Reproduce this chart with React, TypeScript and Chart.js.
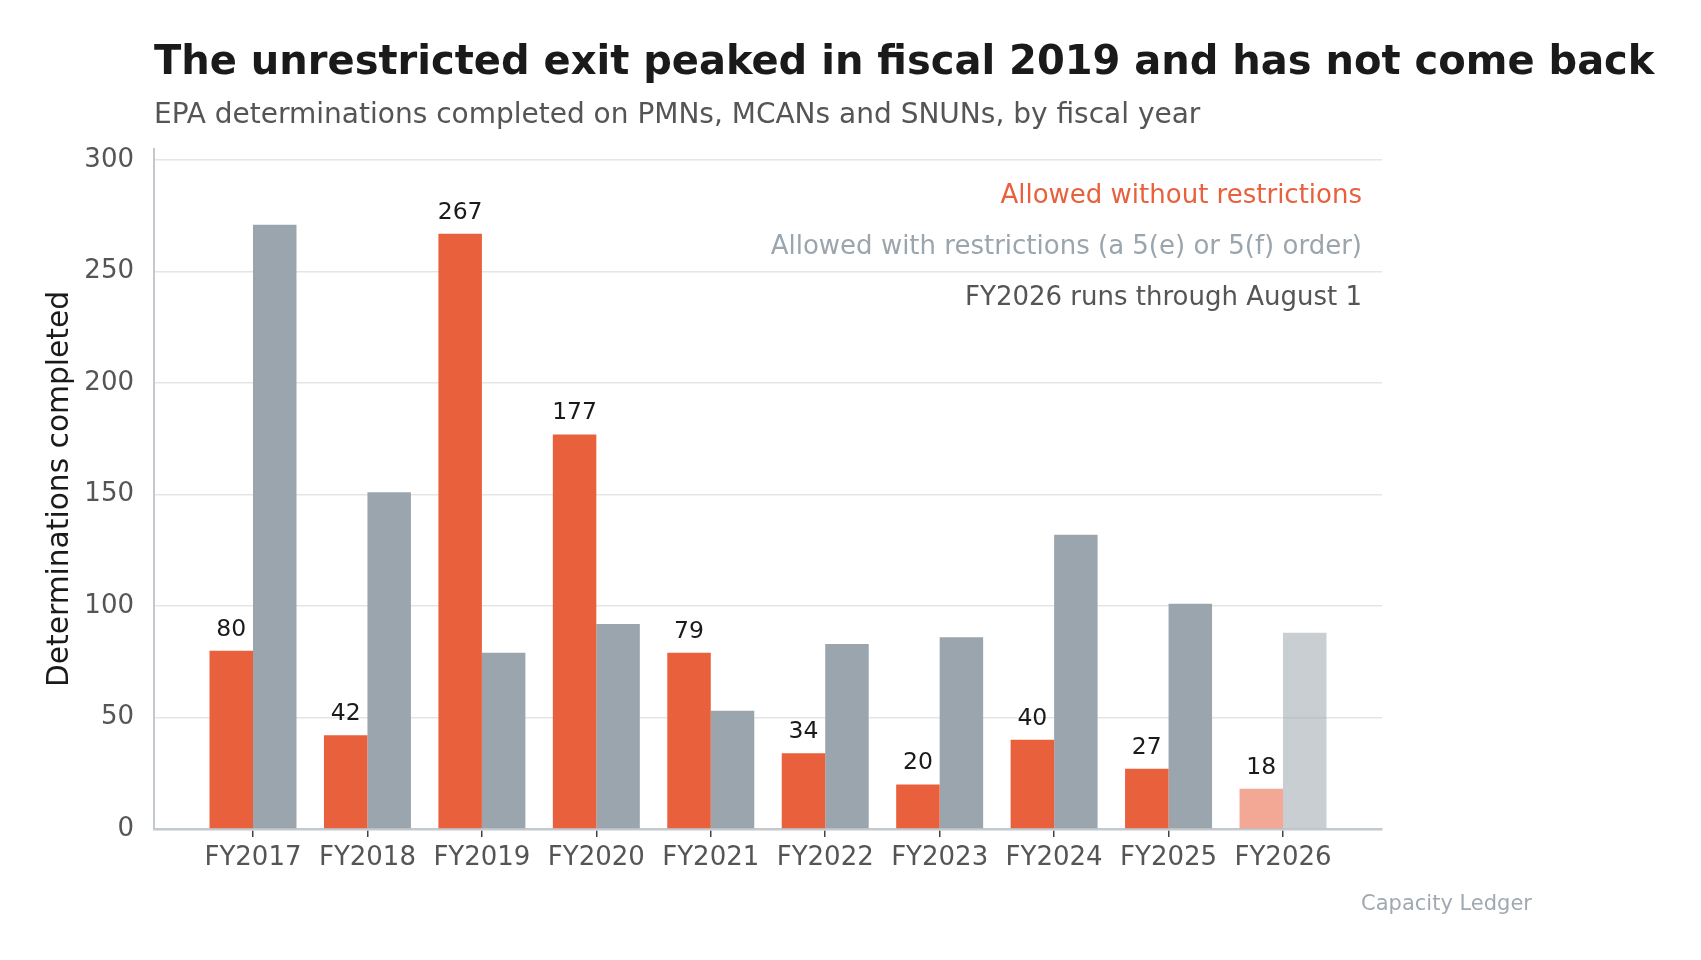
import { Chart, registerables } from "chart.js"
import { useEffect, useRef } from "react"

Chart.register(...registerables)

const years = ["FY2017", "FY2018", "FY2019", "FY2020", "FY2021", "FY2022", "FY2023", "FY2024", "FY2025", "FY2026"]
const unrestricted = [80, 42, 267, 177, 79, 34, 20, 40, 27, 18]
const restricted = [271, 151, 79, 92, 53, 83, 86, 132, 101, 88]
const yTicks = [0, 50, 100, 150, 200, 250, 300]

const legendLines = [
    { text: "Allowed without restrictions", color: "#e8603c" },
    { text: "Allowed with restrictions (a 5(e) or 5(f) order)", color: "#9ba5ad" },
    { text: "FY2026 runs through August 1", color: "#555555" },
]

const ORANGE = "#e8603c"
const ORANGE_LIGHT = "rgba(232, 96, 60, 0.55)"
const GREY = "#9ba5ad"
const GREY_LIGHT = "rgba(155, 165, 173, 0.55)"
const FONT = "'DejaVu Sans', sans-serif"

// last year is partial, drawn faded
const colorsFor = (base: string, light: string) => years.map((_, i) => (i === years.length - 1 ? light : base))

const textPlugin = {
    id: "texts",
    afterDatasetsDraw(chart: any) {
        const ctx = chart.ctx
        const meta = chart.getDatasetMeta(0)
        ctx.save()
        ctx.font = `23.5px ${FONT}`
        ctx.fillStyle = "#1a1a1a"
        ctx.textAlign = "center"
        ctx.textBaseline = "alphabetic"
        meta.data.forEach((el: any, i: number) => {
            ctx.fillText(String(unrestricted[i]), el.x, el.y - 15)
        })
        ctx.restore()
    },
    afterDraw(chart: any) {
        const ctx = chart.ctx
        const area = chart.chartArea
        ctx.save()
        ctx.textBaseline = "alphabetic"

        ctx.textAlign = "left"
        ctx.fillStyle = "#1a1a1a"
        ctx.font = `bold 40px ${FONT}`
        ctx.fillText("The unrestricted exit peaked in fiscal 2019 and has not come back", area.left, 74)
        ctx.fillStyle = "#555555"
        ctx.font = `28px ${FONT}`
        ctx.fillText("EPA determinations completed on PMNs, MCANs and SNUNs, by fiscal year", area.left, 123)

        ctx.textAlign = "right"
        ctx.font = `26px ${FONT}`
        legendLines.forEach((l, i) => {
            ctx.fillStyle = l.color
            ctx.fillText(l.text, 1362, 203 + i * 51)
        })

        ctx.fillStyle = "#a0a8b0"
        ctx.font = `21px ${FONT}`
        ctx.fillText("Capacity Ledger", 1532, 910)

        ctx.translate(68, (area.top + area.bottom) / 2)
        ctx.rotate(-Math.PI / 2)
        ctx.textAlign = "center"
        ctx.fillStyle = "#1a1a1a"
        ctx.font = `29.7px ${FONT}`
        ctx.fillText("Determinations completed", 0, 0)
        ctx.restore()
    },
}

const App = () => {
    const canvasRef = useRef<HTMLCanvasElement>(null)

    useEffect(() => {
        if (!canvasRef.current) return
        const myChart = new Chart(canvasRef.current, {
            type: "bar",
            data: {
                datasets: [
                    {
                        label: "Allowed without restrictions",
                        data: unrestricted.map((v, i) => ({ x: i, y: v })),
                        backgroundColor: colorsFor(ORANGE, ORANGE_LIGHT),
                        categoryPercentage: 0.76,
                        barPercentage: 1,
                    },
                    {
                        label: "Allowed with restrictions",
                        data: restricted.map((v, i) => ({ x: i, y: v })),
                        backgroundColor: colorsFor(GREY, GREY_LIGHT),
                        categoryPercentage: 0.76,
                        barPercentage: 1,
                    },
                ],
            },
            options: {
                responsive: false,
                animation: false,
                devicePixelRatio: 1,
                layout: { padding: { left: 34, top: 149, right: 319, bottom: 81 } },
                plugins: {
                    legend: { display: false },
                    tooltip: { enabled: false },
                },
                scales: {
                    x: {
                        type: "linear",
                        offset: false,
                        min: -0.865,
                        max: years.length - 1 + 0.865,
                        afterFit: (s: any) => { s.height = 50 },
                        afterBuildTicks: (s: any) => { s.ticks = years.map((_, i) => ({ value: i })) },
                        ticks: {
                            callback: (v: any) => years[v] ?? "",
                            font: { family: FONT, size: 26 },
                            color: "#555555",
                            padding: 6,
                            maxRotation: 0,
                            autoSkip: false,
                        },
                        grid: { offset: false, drawOnChartArea: false, drawTicks: true, tickLength: 8, color: "#444444", lineWidth: 1.5 },
                        border: { color: "#c3c9cf", width: 2.5 },
                    },
                    y: {
                        min: 0,
                        max: 305,
                        afterFit: (s: any) => { s.width = 120 },
                        afterBuildTicks: (s: any) => { s.ticks = yTicks.map((v) => ({ value: v })) },
                        ticks: {
                            font: { family: FONT, size: 26 },
                            color: "#555555",
                            padding: 20,
                        },
                        grid: { color: "#e5e5e5", lineWidth: 1.5, drawTicks: false },
                        border: { color: "#c3c9cf", width: 2 },
                    },
                },
            },
            plugins: [textPlugin],
        })
        return () => {
            myChart.destroy()
        }
    }, [])

    return (
        <div style={{ position: "fixed", left: 0, top: 0, width: 1701, height: 960, background: "#ffffff" }}>
            <canvas ref={canvasRef} width={1701} height={960}></canvas>
        </div>
    )
}

export default App
